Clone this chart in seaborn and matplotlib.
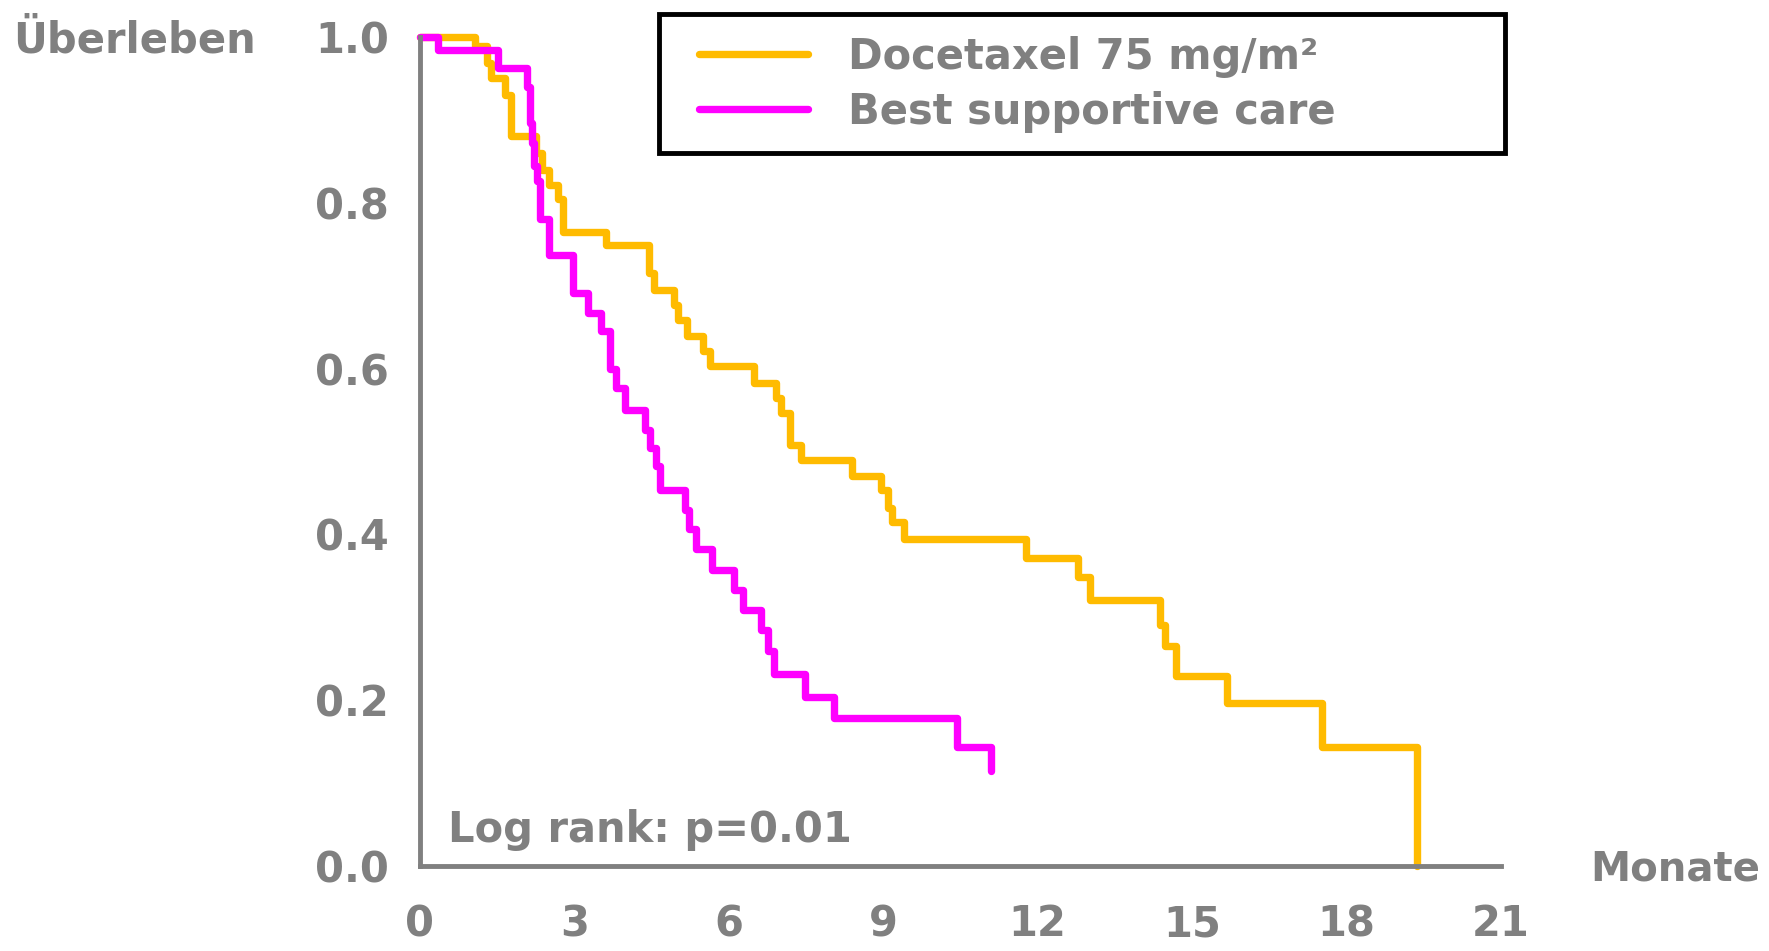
import numpy as np
import pandas as pd
import matplotlib
matplotlib.use("Agg")
import matplotlib.pyplot as plt
from matplotlib.lines import Line2D
from matplotlib.patches import Rectangle
import seaborn as sns

# ---- data ----
doc_time = [0, 1.08, 1.30, 1.39, 1.65, 1.78, 2.25, 2.38, 2.51, 2.69, 2.79, 3.62, 4.46, 4.55,
            4.93, 5.02, 5.19, 5.50, 5.63, 6.50, 6.92, 7.02, 7.19, 7.41, 8.40, 8.96, 9.10,
            9.18, 9.40, 11.78, 12.78, 13.02, 14.38, 14.47, 14.70, 15.69, 17.52, 19.38]
doc_surv = [1.0, 0.989, 0.969, 0.951, 0.930, 0.880, 0.860, 0.840, 0.822, 0.804, 0.765, 0.749,
            0.715, 0.695, 0.677, 0.659, 0.639, 0.621, 0.603, 0.583, 0.565, 0.547, 0.508, 0.490,
            0.470, 0.454, 0.432, 0.415, 0.394, 0.372, 0.348, 0.321, 0.291, 0.265, 0.229,
            0.197, 0.144, 0.0]

bsc_time = [0, 0.35, 1.52, 2.08, 2.15, 2.18, 2.22, 2.28, 2.33, 2.52, 2.98, 3.27, 3.52, 3.70,
            3.81, 3.98, 4.37, 4.47, 4.59, 4.67, 5.15, 5.24, 5.37, 5.67, 6.11, 6.28, 6.63,
            6.76, 6.89, 7.49, 8.05, 10.44, 11.09]
bsc_surv = [1.0, 0.984, 0.963, 0.940, 0.896, 0.872, 0.844, 0.826, 0.780, 0.737, 0.691, 0.667,
            0.645, 0.599, 0.577, 0.550, 0.526, 0.504, 0.482, 0.454, 0.430, 0.406, 0.382,
            0.357, 0.333, 0.309, 0.285, 0.259, 0.231, 0.204, 0.179, 0.144, 0.114]

group_names = ["Docetaxel 75 mg/m²", "Best supportive care"]
group_colors = ["#FFBB00", "#FF00FF"]
x_ticks = [0, 3, 6, 9, 12, 15, 18, 21]
y_ticks = [0.0, 0.2, 0.4, 0.6, 0.8, 1.0]
y_label = "Überleben"
x_label = "Monate"
note = "Log rank: p=0.01"

df = pd.concat([
    pd.DataFrame({"time": doc_time, "surv": doc_surv, "group": group_names[0]}),
    pd.DataFrame({"time": bsc_time, "surv": bsc_surv, "group": group_names[1]}),
])

# ---- style ----
sns.set_style("white")
plt.rcParams["font.family"] = ["DejaVu Sans"]
GRAY = "#808080"
FS = 30
LW = 5.3

fig = plt.figure(figsize=(17.69, 9.51), dpi=100)
ax = fig.add_axes([0.2373, 0.0894, 0.611, 0.8717])

sns.lineplot(data=df, x="time", y="surv", hue="group",
             palette=dict(zip(group_names, group_colors)),
             estimator=None, sort=False, drawstyle="steps-post",
             linewidth=LW, legend=False, ax=ax, clip_on=False)

ax.set_xlim(0, 21)
ax.set_ylim(0, 1.0)
ax.set_xticks(x_ticks)
ax.set_yticks(y_ticks)
ax.set_xticklabels([str(t) for t in x_ticks])
ax.set_yticklabels([f"{t:.1f}" for t in y_ticks])
ax.set_xlabel("")
ax.set_ylabel("")

for s in ["top", "right"]:
    ax.spines[s].set_visible(False)
for s in ["left", "bottom"]:
    ax.spines[s].set_color(GRAY)
    ax.spines[s].set_linewidth(3.5)
    ax.spines[s].set_capstyle("projecting")

ax.tick_params(axis="both", direction="out", length=13, width=3.5, color=GRAY,
               labelsize=FS, labelcolor=GRAY)
ax.tick_params(axis="y", pad=9)
ax.tick_params(axis="x", pad=14)
for lab in ax.get_xticklabels() + ax.get_yticklabels():
    lab.set_fontweight("bold")

# axis titles
fig.text(0.0076, 0.957, y_label, fontsize=FS, fontweight="bold", color=GRAY,
         ha="left", va="center")
fig.text(0.899, 0.0855, x_label, fontsize=FS - 1, fontweight="bold", color=GRAY,
         ha="left", va="center")
ax.text(0.55, 0.043, note, fontsize=FS, fontweight="bold", color=GRAY,
        ha="left", va="center")

# legend (frameless, with a separate box drawn around it)
handles = [Line2D([0], [0], color=c, lw=LW) for c in group_colors]
leg = fig.legend(handles, group_names, loc="upper left",
                 bbox_to_anchor=(0.3954, 0.9625),
                 bbox_transform=fig.transFigure,
                 fontsize=FS, frameon=False,
                 borderpad=0, labelspacing=0.32, handlelength=2.6,
                 handletextpad=0.97, borderaxespad=0)
for t in leg.get_texts():
    t.set_color(GRAY)
    t.set_fontweight("bold")

fig.patches.append(Rectangle((659 / 1769, 1 - 153.4 / 951), (1505 - 659) / 1769,
                             (153.4 - 13.5) / 951, transform=fig.transFigure,
                             fill=False, edgecolor="black", linewidth=3.5,
                             joinstyle="miter"))

fig.savefig("out.png", dpi=100, facecolor="white")
